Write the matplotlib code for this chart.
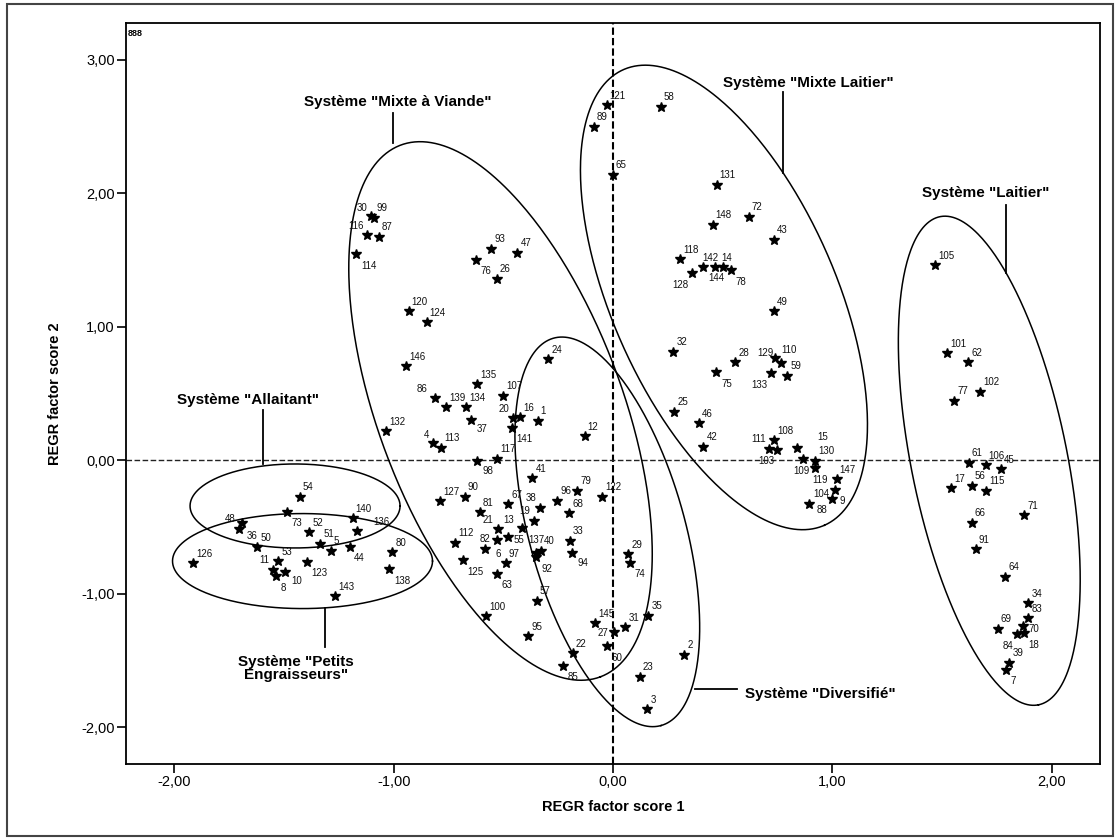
import matplotlib
matplotlib.use('Agg')
import matplotlib.pyplot as plt
import numpy as np
from matplotlib.patches import Rectangle

plt.rcParams['font.family'] = ['Liberation Sans', 'DejaVu Sans']

# farm ids and their regression factor scores
ids = list(range(1, 149))
score1 = [-0.343, 0.325, 0.156, -0.820, -1.288, -0.584, 1.792, -1.537, 0.998, -1.496,
          -1.549, -0.129, -0.414, 0.465, 0.841, -0.424, 1.542, 1.875, -0.360, -0.457,
          -0.523, -0.184, 0.123, -0.295, 0.280, -0.529, 0.005, 0.558, 0.070, -1.104,
          0.056, 0.275, -0.196, 1.894, 0.161, -1.706, -0.649, -0.333, 1.808, -0.330,
          -0.368, 0.412, 0.734, -1.200, 1.768, 0.391, -0.436, -1.693, 0.734, -1.622,
          -1.336, -1.385, -1.527, -1.428, -0.480, 1.636, -0.348, 0.219, 0.795, -0.026,
          1.622, 1.621, -0.530, 1.788, 0.000, 1.636, -0.478, -0.199, 1.755, 1.871,
          1.875, 0.620, -1.488, 0.079, 0.470, -0.626, 1.555, 0.538, -0.163, -1.007,
          -0.607, -0.530, 1.894, 1.841, -0.227, -0.813, -1.069, 0.895, -0.088, -0.675,
          1.654, -0.351, -0.556, -0.186, -0.386, -0.254, -0.489, -0.619, -1.092, -0.579,
          1.525, 1.674, 0.747, 1.013, 1.469, 1.700, -0.500, 0.734, 0.865, 0.766,
          0.713, -0.721, -0.786, -1.172, 1.700, -1.122, -0.528, 0.306, 0.923, -0.932,
          -0.029, -0.049, -1.397, -0.850, -0.686, -1.914, -0.789, 0.362, 0.739, 0.921,
          0.473, -1.035, 0.721, -0.670, -0.619, -1.169, -0.351, -1.020, -0.762, -1.187,
          -0.462, 0.412, -1.268, 0.500, -0.082, -0.943, 1.020, 0.455]
score2 = [0.294, -1.460, -1.867, 0.131, -0.678, -0.668, -1.573, -0.868, -0.289, -0.836,
          -0.823, 0.181, -0.508, 1.448, 0.089, 0.322, -0.211, -1.293, -0.454, 0.319,
          -0.516, -1.448, -1.623, 0.756, 0.364, 1.361, -1.290, 0.736, -0.705, 1.831,
          -1.253, 0.813, -0.603, -1.073, -1.166, -0.518, 0.301, -0.356, -1.518, -0.678,
          -0.136, 0.101, 1.651, -0.653, -0.066, 0.277, 1.555, -0.473, 1.118, -0.653,
          -0.628, -0.540, -0.758, -0.274, -0.578, -0.193, -1.055, 2.650, 0.633, -1.393,
          -0.019, 0.736, -0.855, -0.873, 2.138, -0.469, -0.331, -0.398, -1.263, -1.243,
          -0.411, 1.825, -0.385, -0.768, 0.663, 1.498, 0.444, 1.428, -0.229, -0.690,
          -0.391, -0.598, -1.185, -1.303, -1.540, 0.466, 1.675, -0.328, 2.500, -0.274,
          -0.666, -0.723, 1.585, -0.698, -1.318, -0.304, -0.773, -0.006, 1.819, -1.168,
          0.801, 0.513, 0.074, -0.223, 1.463, -0.036, 0.483, 0.151, 0.009, 0.726,
          0.082, -0.618, 0.094, 1.546, -0.229, 1.688, 0.011, 1.508, -0.058, 1.116,
          2.660, -0.274, -0.763, 1.034, -0.748, -0.773, -0.306, 1.401, 0.764, -0.004,
          2.065, 0.217, 0.651, 0.397, 0.569, -0.531, -0.699, -0.818, 0.397, -0.436,
          0.241, 1.448, -1.018, 1.448, -1.223, 0.704, -0.141, 1.765]

xticks = [-2, -1, 0, 1, 2]
yticks = [-2, -1, 0, 1, 2, 3]

# label centre offsets (pixels, y up) where the label is not up-right of its star
label_shift = {
    30: (-9, 9), 116: (-11, 10), 114: (13, -11), 76: (10, -10), 142: (7, 10),
    14: (12, 10), 144: (-6, -10), 128: (-12, -11), 78: (10, -11), 86: (-13, 10),
    4: (-7, 9), 37: (11, -8), 20: (-9, 10), 141: (13, -10), 98: (11, -9),
    38: (-9, 11), 21: (-10, 10), 13: (-14, 9), 19: (-9, 11), 82: (-12, 2),
    55: (11, -2), 6: (13, -4), 137: (0, 14), 92: (11, -11), 94: (11, -9),
    125: (13, -11), 63: (10, -10), 74: (10, -10), 27: (-11, 0), 60: (10, -11),
    85: (10, -10), 75: (11, -11), 133: (-12, -11), 129: (-10, 6), 110: (8, 14),
    111: (-11, 11), 103: (-10, -10), 15: (25, 12), 109: (-1, -11), 119: (5, -11),
    104: (-14, -3), 9: (10, -1), 88: (13, -5), 70: (11, -2), 18: (10, -11),
    84: (-9, -11), 7: (7, -10), 136: (25, 10), 73: (10, -10), 44: (9, -10),
    11: (-9, 11), 10: (12, -8), 8: (7, -11), 123: (13, -10), 138: (13, -11),
    48: (-12, 5), 36: (13, -6),
}

# group ellipses: centre (data), semi axes (px), angle (deg)
groups = {
    'Viande': ((-0.513, 0.369), 284, 122, -69.4),
    'MixteLait': ((0.506, 1.220), 249, 112, -66.2),
    'Laitier': ((1.716, -0.004), 249, 78, -78.6),
    'Divers': ((-0.026, -0.537), 201, 78, -74.5),
    'Allaitant': ((-1.450, -0.343), 105, 42, 0.0),
    'Petits': ((-1.416, -0.756), 130, 47.5, 0.0),
}

# group names with text position and pointer line
group_labels = [
    ('Système "Mixte à Viande"', (-0.981, 2.685), [(-1.003, -1.003), (2.603, 2.378)]),
    ('Système "Mixte Laitier"', (0.892, 2.828), [(0.774, 0.774), (2.762, 2.151)]),
    ('Système "Laitier"', (1.701, 2.004), [(1.791, 1.791), (1.913, 1.401)]),
    ('Système "Allaitant"', (-1.665, 0.451), [(-1.598, -1.598), (0.376, -0.031)]),
    ('Système "Petits\nEngraisseurs"', (-1.446, -1.560), [(-1.314, -1.314), (-1.110, -1.398)]),
    ('Système "Diversifié"', (0.944, -1.750), [(0.374, 0.564), (-1.717, -1.717)]),
]

DPI = 100
PX = 72.0 / DPI

fig = plt.figure(figsize=(11.2, 8.4), dpi=DPI)
ax = fig.add_axes([126 / 1120, 1 - 764 / 840, 974 / 1120, 741 / 840])
ax.set_xlim(-2.221, 2.221)
ax.set_ylim(-2.277, 3.277)

ax.axvline(0, color='black', lw=1.5, ls=(0, (3.5, 1.5)), zorder=1)
ax.axhline(0, color='#222222', lw=1.0, ls=(0, (4, 1.8)), zorder=1)

ax.plot(score1, score2, ls='none', marker='*', ms=7, color='black', zorder=3)

for i, x, y in zip(ids, score1, score2):
    s = str(i)
    dx, dy = label_shift.get(i, (3 + 2.7 * len(s), 10.5))
    ax.annotate(s, (x, y), xytext=(dx * PX, (dy - 1) * PX), textcoords='offset points',
                ha='center', va='center', fontsize=7, color='#111111', zorder=4)

t = np.linspace(0, 2 * np.pi, 400)
for (cx, cy), a, b, ang in groups.values():
    ox, oy = ax.transData.transform((cx, cy))
    th = np.deg2rad(ang)
    dx = a * np.cos(th) * np.cos(t) - b * np.sin(th) * np.sin(t)
    dy = a * np.sin(th) * np.cos(t) + b * np.cos(th) * np.sin(t)
    pts = ax.transData.inverted().transform(np.column_stack([ox + dx, oy + dy]))
    ax.plot(pts[:, 0], pts[:, 1], color='black', lw=1.1, zorder=2)

for name, (tx, ty), (lx, ly) in group_labels:
    ax.text(tx, ty, name, ha='center', va='center', fontsize=11, fontweight='bold',
            linespacing=0.85, zorder=5)
    ax.plot(lx, ly, color='black', lw=1.3, zorder=2)

ax.text(0.002, 0.992, '888', transform=ax.transAxes, fontsize=6.5, fontweight='black',
        va='top', ha='left')

fmt = lambda v: f'{v:.2f}'.replace('.', ',')
ax.set_xticks(xticks)
ax.set_xticklabels([fmt(v) for v in xticks])
ax.set_yticks(yticks)
ax.set_yticklabels([fmt(v) for v in yticks])
ax.tick_params(direction='out', length=6.5, width=1.2, labelsize=10.5, pad=1.5)
for sp in ax.spines.values():
    sp.set_linewidth(1.3)

ax.set_xlabel('REGR factor score 1', fontsize=10.5, fontweight='bold', labelpad=8)
ax.set_ylabel('REGR factor score 2', fontsize=10.5, fontweight='bold', labelpad=14)

fig.patches.append(Rectangle((7 / 1120, 4 / 840), 1106 / 1120, 832 / 840,
                             transform=fig.transFigure, fill=False, lw=1.5,
                             edgecolor='#444444'))

fig.savefig('out.png', dpi=DPI)
